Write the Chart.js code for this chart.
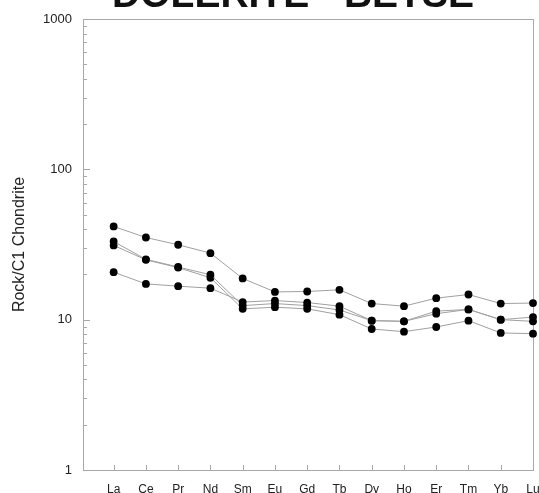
<!DOCTYPE html>
<html>
<head>
<meta charset="utf-8">
<script src="https://cdn.jsdelivr.net/npm/chart.js@4.4.1/dist/chart.umd.min.js"></script>
<style>
  html, body { margin: 0; padding: 0; background: #fff; }
  #wrap { width: 539px; height: 493px; position: relative; }
</style>
</head>
<body>
<div id="wrap"><canvas id="chart"></canvas></div>
<script>
// REE elements, x positions 1..14
const elements = ["La", "Ce", "Pr", "Nd", "Sm", "Eu", "Gd", "Tb", "Dy", "Ho", "Er", "Tm", "Yb", "Lu"];
const yTicks = [1, 10, 100, 1000];
const chartTitle = "DOLERITE - BETSE";
const yTitle = "Rock/C1 Chondrite";

// chondrite-normalised values
const sample1 = [41.7, 35.2, 31.5, 27.7, 18.8, 15.3, 15.4, 15.8, 12.8, 12.3, 13.9, 14.7, 12.8, 12.9];
const sample2 = [20.7, 17.3, 16.7, 16.2, 13.1, 13.4, 13.0, 12.3, 9.85, 9.75, 11.4, 11.7, 10.0, 10.4];
const sample3 = [33.1, 25.2, 22.4, 19.9, 12.4, 12.8, 12.4, 11.6, 9.85, 9.75, 10.96, 11.7, 10.0, 9.75];
const sample4 = [31.2, 25.0, 22.2, 19.0, 11.8, 12.1, 11.8, 10.8, 8.67, 8.32, 8.94, 9.85, 8.16, 8.07];

const allSeries = [sample1, sample2, sample3, sample4];

function toPoints(values) {
  return values.map((v, i) => ({ x: i + 1, y: v }));
}

const frameColor = "#a8a8a8";

// title (cut off at top), frame and inside tick marks
const decorPlugin = {
  id: "decor",
  beforeDatasetsDraw(chart) {
    const ctx = chart.ctx;
    const a = chart.chartArea;
    const xs = chart.scales.x;
    const ys = chart.scales.y;
    ctx.save();
    ctx.strokeStyle = frameColor;
    ctx.lineWidth = 1;

    // frame
    ctx.strokeRect(Math.round(a.left) + 0.5, Math.round(a.top) + 0.5,
      Math.round(a.right - a.left), Math.round(a.bottom - a.top));

    // x ticks inside, from bottom up
    ctx.beginPath();
    elements.forEach((_, i) => {
      const px = Math.round(xs.getPixelForValue(i + 1)) + 0.5;
      ctx.moveTo(px, a.bottom);
      ctx.lineTo(px, a.bottom - 5);
    });
    ctx.stroke();

    // y ticks inside on the left axis
    ctx.beginPath();
    for (let d = 1; d <= 100; d *= 10) {
      for (let k = 1; k <= 9; k++) {
        const v = k * d;
        const py = Math.round(ys.getPixelForValue(v)) + 0.5;
        const len = k === 1 ? 7 : 4;
        ctx.moveTo(a.left, py);
        ctx.lineTo(a.left + len, py);
      }
    }
    ctx.stroke();
    ctx.restore();
  },
  afterDraw(chart) {
    const ctx = chart.ctx;
    ctx.save();
    ctx.fillStyle = "#111";
    ctx.font = "bold 39px 'Liberation Sans', Arial, sans-serif";
    ctx.textAlign = "center";
    ctx.textBaseline = "alphabetic";
    ctx.fillText(chartTitle, 293, 7);
    ctx.restore();
  }
};

new Chart(document.getElementById("chart"), {
  type: "line",
  data: {
    datasets: allSeries.map(s => ({
      data: toPoints(s),
      borderColor: "#a0a0a0",
      borderWidth: 1,
      pointRadius: 3.9,
      pointBackgroundColor: "#000",
      pointBorderColor: "#000",
      pointBorderWidth: 0,
      tension: 0,
      clip: false
    }))
  },
  options: {
    responsive: true,
    maintainAspectRatio: false,
    animation: false,
    layout: { padding: { top: 19, right: 6, left: 0, bottom: 0 } },
    plugins: {
      legend: { display: false },
      tooltip: { enabled: false },
      title: { display: false }
    },
    scales: {
      x: {
        type: "linear",
        min: 0.05,
        max: 14,
        border: { display: false },
        grid: { display: false, drawTicks: false },
        afterBuildTicks: scale => {
          scale.ticks = elements.map((_, i) => ({ value: i + 1 }));
        },
        afterFit: scale => {
          scale.height = 23;
          scale.paddingLeft = 0;
          scale.paddingRight = 0;
        },
        ticks: {
          autoSkip: false,
          maxRotation: 0,
          padding: 12,
          color: "#222",
          font: { family: "'Liberation Sans', Arial, sans-serif", size: 12 },
          callback: v => elements[v - 1] || ""
        }
      },
      y: {
        type: "logarithmic",
        min: 1,
        max: 1000,
        border: { display: false },
        grid: { display: false, drawTicks: false },
        afterBuildTicks: scale => {
          scale.ticks = yTicks.map(v => ({ value: v }));
        },
        afterFit: scale => {
          scale.width = 83;
          scale.paddingTop = 0;
          scale.paddingBottom = 0;
        },
        ticks: {
          padding: 11,
          color: "#222",
          font: { family: "'Liberation Sans', Arial, sans-serif", size: 13 },
          callback: v => String(v)
        },
        title: {
          display: true,
          text: yTitle,
          color: "#222",
          padding: { top: 10, bottom: 4 },
          font: { family: "'Liberation Sans', Arial, sans-serif", size: 16 }
        }
      }
    }
  },
  plugins: [decorPlugin]
});
</script>
</body>
</html>
